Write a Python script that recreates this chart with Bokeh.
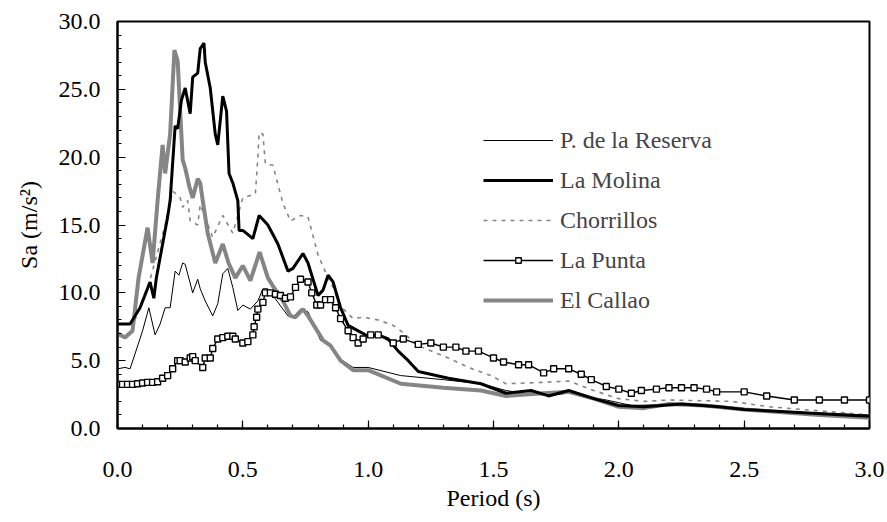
from bokeh.plotting import figure
from bokeh.models import (Range1d, SingleIntervalTicker, NumeralTickFormatter,
                          Legend, LegendItem)
from bokeh.embed import file_html
from bokeh.resources import INLINE

# ---------------- data ----------------
reserva_T = [0.0, 0.03, 0.05, 0.07, 0.10, 0.125, 0.15, 0.17, 0.19, 0.21, 0.23, 0.245,
             0.26, 0.27, 0.30, 0.32, 0.33, 0.35, 0.38, 0.40, 0.42, 0.44, 0.46, 0.48,
             0.50, 0.53, 0.56, 0.58, 0.60, 0.64, 0.68, 0.70, 0.73, 0.76, 0.81, 0.85,
             0.89, 0.94, 1.0, 1.13, 1.3, 1.45, 1.55, 1.65, 1.75, 1.8, 1.95, 2.05,
             2.3, 2.55, 2.7, 3.0]
reserva_Sa = [4.4, 4.5, 4.4, 5.5, 7.2, 8.9, 6.9, 7.7, 8.9, 8.9, 11.6, 11.3,
              12.2, 12.1, 10.0, 11.0, 10.3, 9.4, 8.3, 9.2, 11.4, 11.8, 10.4, 8.7,
              9.1, 8.8, 9.4, 10.3, 10.3, 9.3, 8.3, 8.2, 8.8, 8.6, 6.5, 6.2,
              5.1, 4.5, 4.5, 3.9, 3.6, 3.3, 2.8, 2.5, 2.5, 2.6, 2.1, 1.7,
              1.8, 1.4, 1.2, 1.0]

molina_T = [0.0, 0.05, 0.09, 0.13, 0.145, 0.155, 0.18, 0.20, 0.21, 0.23, 0.24, 0.255,
            0.27, 0.29, 0.30, 0.32, 0.33, 0.345, 0.35, 0.37, 0.39, 0.40, 0.42, 0.435,
            0.445, 0.46, 0.48, 0.485, 0.50, 0.54, 0.565, 0.60, 0.64, 0.68, 0.70, 0.74,
            0.76, 0.80, 0.82, 0.84, 0.86, 0.89, 0.92, 0.96, 1.0, 1.04, 1.08, 1.12,
            1.16, 1.2, 1.32, 1.45, 1.55, 1.65, 1.72, 1.8, 1.9, 2.0, 2.1, 2.25,
            2.4, 2.5, 2.7, 2.9, 3.0]
molina_Sa = [7.7, 7.7, 8.9, 10.8, 9.6, 11.1, 13.6, 15.6, 16.8, 22.3, 22.1, 24.2,
             25.1, 23.2, 25.9, 26.2, 28.0, 28.4, 27.0, 25.1, 21.7, 20.9, 24.5, 23.4,
             18.8, 18.1, 16.8, 14.6, 14.6, 14.0, 15.7, 15.0, 13.6, 11.6, 11.8, 12.9,
             12.2, 9.8, 10.2, 11.3, 10.8, 8.9, 7.6, 7.2, 6.8, 6.9, 6.6, 5.7,
             5.0, 4.2, 3.7, 3.3, 2.6, 2.8, 2.4, 2.8, 2.2, 1.7, 1.6, 1.8,
             1.6, 1.4, 1.2, 1.0, 0.9]

chorr_T = [0.0, 0.05, 0.10, 0.13, 0.16, 0.19, 0.22, 0.25, 0.26, 0.28, 0.29, 0.32,
           0.33, 0.38, 0.42, 0.46, 0.50, 0.55, 0.56, 0.565, 0.58, 0.59, 0.62, 0.66,
           0.69, 0.73, 0.76, 0.80, 0.84, 0.86, 0.89, 0.94, 0.98, 1.04, 1.10, 1.13,
           1.2, 1.32, 1.4, 1.49, 1.55, 1.7, 1.8, 1.9, 2.0, 2.1, 2.2, 2.45,
           2.6, 2.8, 3.0]
chorr_Sa = [6.8, 7.0, 9.5, 11.0, 13.0, 15.0, 17.5, 17.0, 16.3, 16.8, 15.3, 15.0,
            16.5, 14.1, 15.7, 14.4, 17.0, 17.3, 20.0, 21.8, 21.7, 19.5, 19.4, 16.6,
            15.3, 15.7, 15.6, 12.8, 11.1, 10.4, 9.0, 8.1, 8.2, 8.0, 7.6, 7.2,
            6.1, 5.2, 4.5, 3.9, 3.3, 3.4, 3.5, 2.8, 2.2, 2.0, 2.1, 2.0,
            1.6, 1.3, 1.0]

punta_T = [0.0, 0.02, 0.04, 0.06, 0.08, 0.10, 0.12, 0.14, 0.16, 0.18, 0.20, 0.22,
           0.24, 0.25, 0.27, 0.29, 0.30, 0.31, 0.34, 0.35, 0.37, 0.38, 0.40, 0.42,
           0.44, 0.46, 0.47, 0.50, 0.52, 0.54, 0.545, 0.555, 0.56, 0.58, 0.59, 0.61,
           0.63, 0.65, 0.67, 0.69, 0.71, 0.73, 0.76, 0.775, 0.795, 0.81, 0.83, 0.85,
           0.87, 0.89, 0.92, 0.94, 0.96, 0.98, 1.01, 1.04, 1.10, 1.14, 1.20, 1.25,
           1.30, 1.35, 1.39, 1.44, 1.50, 1.54, 1.60, 1.64, 1.70, 1.74, 1.80, 1.85,
           1.89, 1.95, 2.0, 2.05, 2.09, 2.15, 2.2, 2.25, 2.3, 2.35, 2.39, 2.5,
           2.59, 2.7, 2.8, 2.9, 3.0]
punta_Sa = [3.25, 3.25, 3.25, 3.25, 3.3, 3.35, 3.4, 3.4, 3.45, 3.7, 3.9, 4.4,
            5.0, 5.0, 4.9, 5.2, 5.3, 5.0, 4.5, 5.2, 5.2, 5.9, 6.6, 6.7,
            6.8, 6.8, 6.6, 6.3, 6.4, 6.9, 7.5, 8.2, 8.8, 9.3, 10.0, 10.0,
            9.9, 9.8, 9.6, 9.7, 10.4, 11.0, 10.8, 10.0, 9.1, 9.1, 9.5, 9.5,
            8.9, 8.1, 7.2, 6.7, 6.3, 6.6, 6.9, 6.9, 6.3, 6.6, 6.2, 6.3,
            6.0, 6.0, 5.7, 5.7, 5.2, 4.9, 4.7, 4.7, 4.1, 4.4, 4.4, 4.0,
            3.6, 3.1, 2.9, 2.6, 2.8, 2.9, 3.0, 3.0, 3.0, 2.9, 2.7, 2.7,
            2.4, 2.1, 2.1, 2.1, 2.1]

callao_T = [0.0, 0.03, 0.06, 0.084, 0.12, 0.14, 0.16, 0.18, 0.19, 0.21, 0.227, 0.24,
            0.26, 0.27, 0.287, 0.30, 0.32, 0.33, 0.34, 0.36, 0.39, 0.42, 0.443, 0.47,
            0.50, 0.53, 0.567, 0.60, 0.62, 0.66, 0.69, 0.71, 0.74, 0.76, 0.82, 0.85,
            0.89, 0.94, 1.0, 1.13, 1.3, 1.45, 1.55, 1.7, 1.8, 1.9, 2.0, 2.1,
            2.2, 2.34, 2.5, 2.8, 3.0]
callao_Sa = [7.0, 6.7, 7.2, 11.1, 14.8, 12.2, 16.8, 20.9, 18.8, 21.7, 27.9, 27.1,
             19.8, 19.2, 17.8, 17.0, 18.4, 18.1, 16.8, 14.4, 12.2, 13.6, 12.2, 11.1,
             12.0, 10.9, 13.0, 11.1, 10.5, 9.4, 8.3, 8.2, 8.8, 8.3, 6.5, 6.1,
             5.0, 4.3, 4.3, 3.3, 3.0, 2.8, 2.4, 2.6, 2.7, 2.2, 1.6, 1.5,
             1.8, 1.7, 1.4, 1.0, 0.8]

x_axis_title = "Period (s)"
y_axis_title = "Sa (m/s\u00b2)"

FONT = "Liberation Serif"
GRAY = "#858585"

p = figure(width=887, height=522, output_backend="svg", toolbar_location=None,
           x_range=Range1d(0, 3), y_range=Range1d(0, 30),
           min_border_left=117, min_border_right=18, min_border_top=21,
           min_border_bottom=94)
p.xgrid.visible = False
p.ygrid.visible = False
p.outline_line_color = "black"
p.outline_line_width = 2
p.background_fill_color = "white"
p.border_fill_color = "white"

r_res = p.line(reserva_T, reserva_Sa, line_color="black", line_width=1)
r_cho = p.line(chorr_T, chorr_Sa, line_color=GRAY, line_width=1.6, line_dash="4 5")
r_cal = p.line(callao_T, callao_Sa, line_color=GRAY, line_width=4)
r_mol = p.line(molina_T, molina_Sa, line_color="black", line_width=3)
r_pun = p.line(punta_T, punta_Sa, line_color="black", line_width=1.4)
r_punm = p.scatter(punta_T, punta_Sa, marker="square", size=6, line_color="black",
                   line_width=1.4, fill_color="white")

for ax in (p.xaxis[0], p.yaxis[0]):
    ax.axis_line_width = 2
    ax.axis_line_color = "black"
    ax.major_tick_in = 8
    ax.major_tick_out = 0
    ax.minor_tick_in = 4
    ax.minor_tick_out = 0
    ax.major_tick_line_width = 1.2
    ax.minor_tick_line_width = 1.2
    ax.major_label_text_font = FONT
    ax.major_label_text_font_size = "24px"
    ax.major_label_text_color = "black"
    ax.axis_label_text_font = FONT
    ax.axis_label_text_font_size = "24px"
    ax.axis_label_text_font_style = "normal"
    ax.axis_label_text_color = "black"
    ax.formatter = NumeralTickFormatter(format="0.0")

p.xaxis[0].ticker = SingleIntervalTicker(interval=0.5, num_minor_ticks=5)
p.yaxis[0].ticker = SingleIntervalTicker(interval=5, num_minor_ticks=5)
p.xaxis[0].axis_label = x_axis_title
p.yaxis[0].axis_label = y_axis_title
p.xaxis[0].major_label_standoff = 33
p.xaxis[0].axis_label_standoff = 5
p.yaxis[0].major_label_standoff = 17
p.yaxis[0].axis_label_standoff = 14

legend = Legend(items=[
    LegendItem(label="P. de la Reserva", renderers=[r_res]),
    LegendItem(label="La Molina", renderers=[r_mol]),
    LegendItem(label="Chorrillos", renderers=[r_cho]),
    LegendItem(label="La Punta", renderers=[r_pun, r_punm]),
    LegendItem(label="El Callao", renderers=[r_cal]),
], location=(366, 113), glyph_width=70, glyph_height=14, label_height=30,
    spacing=10, padding=0, margin=0, label_standoff=7,
    label_text_font=FONT, label_text_font_size="24px",
    border_line_alpha=0, background_fill_alpha=0)
p.add_layout(legend)

open("out.html", "w").write(file_html(p, INLINE))
